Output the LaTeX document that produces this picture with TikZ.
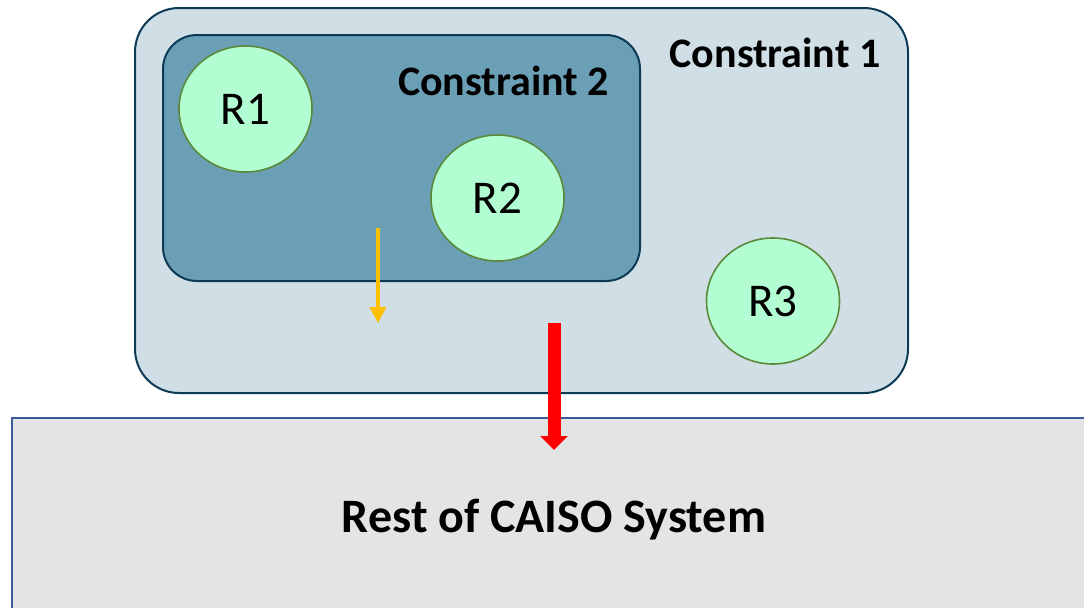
\documentclass[tikz,border=0pt]{standalone}
\usepackage{fontspec}
\setmainfont{Carlito}
\usetikzlibrary{shapes.geometric,arrows.meta}

\definecolor{outerfill}{HTML}{D0DFE6}
\definecolor{innerfill}{HTML}{6B9FB5}
\definecolor{boxline}{HTML}{0D3A55}
\definecolor{resfill}{HTML}{B3FDD3}
\definecolor{resline}{HTML}{5B8A3A}
\definecolor{sysfill}{HTML}{E4E4E4}
\definecolor{sysline}{HTML}{3A5A9A}
\definecolor{flowgold}{HTML}{FFC000}

\tikzset{
  zonebox/.style={draw=boxline, line width=1pt, inner sep=0pt},
  outerzone/.style={zonebox, fill=outerfill, rounded corners=22pt},
  innerzone/.style={zonebox, fill=innerfill, rounded corners=17pt},
  resource/.style={ellipse, draw=resline, line width=0.8pt, fill=resfill,
    minimum width=66.5pt, minimum height=63pt, inner sep=0pt,
    font=\fontsize{23.5}{27}\selectfont},
  zonelabel/.style={anchor=base, font=\fontsize{21}{25}\selectfont\bfseries},
  sysbox/.style={draw=sysline, line width=1pt, fill=sysfill, inner sep=0pt},
  smallflow/.style={draw=flowgold, line width=1.8pt,
    -{Triangle[length=8pt,width=8pt]}},
  bigflow/.style={draw=red, line width=6.5pt,
    -{Triangle[length=7pt,width=13.5pt]}}
}

\begin{document}
\begin{tikzpicture}[x=0.5pt,y=-0.5pt]
\useasboundingbox (0,0) rectangle (1084,607);
\clip (0,0) rectangle (1084,607);

% rest of the system
\node[sysbox, minimum width=544pt, minimum height=103.5pt] (sys) at (556,521.5) {};
\node[anchor=base, font=\fontsize{24}{28}\selectfont\bfseries] (syslabel) at (554,532) {Rest of CAISO System};

% constraint zones
\node[outerzone, minimum width=386.5pt, minimum height=192.5pt] (c1) at (521.5,200.5) {};
\node[innerzone, minimum width=238.5pt, minimum height=123pt] (c2) at (401.5,158) {};
\node[zonelabel] (c1label) at (775,67) {Constraint 1};
\node[zonelabel] (c2label) at (503.5,95) {Constraint 2};

% resources
\node[resource] (r1) at (245.5,109) {R1};
\node[resource] (r2) at (497.5,198) {R2};
\node[resource] (r3) at (773,301) {R3};

% flows
\coordinate (f1s) at (378,228);
\coordinate (f1e) at (378,323);
\coordinate (f2s) at (554,323);
\coordinate (f2e) at (554,450);
\draw[smallflow] (f1s) -- (f1e);
\draw[bigflow] (f2s) -- (f2e);
\end{tikzpicture}
\end{document}
